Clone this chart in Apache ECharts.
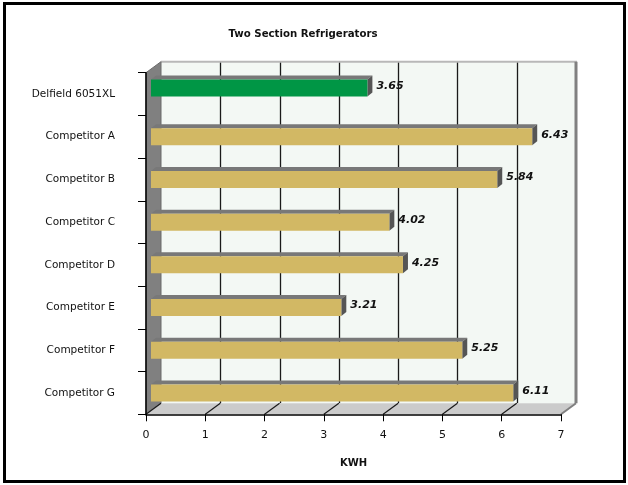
<!DOCTYPE html>
<html>
<head>
<meta charset="utf-8">
<script src="https://cdn.jsdelivr.net/npm/echarts@6/dist/echarts.min.js"></script>
<style>
html,body{margin:0;padding:0;background:#fff;}
#chart{width:628px;height:485px;}
</style>
</head>
<body>
<div id="chart"></div>
<script>
// ---- data ----
const categories = ['Delfield 6051XL', 'Competitor A', 'Competitor B', 'Competitor C', 'Competitor D', 'Competitor E', 'Competitor F', 'Competitor G'];
const kwh = [3.65, 6.43, 5.84, 4.02, 4.25, 3.21, 5.25, 6.11];
const xTicks = [0, 1, 2, 3, 4, 5, 6, 7];
const highlighted = 'Delfield 6051XL';
const titleText = 'Two Section Refrigerators';
const axisName = 'KWH';

// ---- style ----
const DX = 15, DY = -11;          // depth of the 3D box
const BAR_DX = 5, BAR_DY = -4;    // depth of each bar
const BAR_H = 17;
const FONT = '"DejaVu Sans", Verdana, sans-serif';

const chart = echarts.init(document.getElementById('chart'), null, {renderer: 'canvas'});

function backdrop(params, api) {
  const cs = params.coordSys;
  const top = cs.y, bot = cs.y + cs.height;
  const xmin = xTicks[0], xmax = xTicks[xTicks.length - 1];
  const x0 = api.coord([xmin, 0])[0];
  const x7 = api.coord([xmax, 0])[0];
  const children = [];
  children.push({type: 'rect', shape: {x: x0 + DX, y: top + DY, width: x7 - x0, height: bot - top},
    style: {fill: '#f3f8f4', stroke: null}});
  xTicks.forEach(v => {
    if (v === xmin || v === xmax) return;
    const x = Math.round(api.coord([v, 0])[0] + DX) + 0.5;
    children.push({type: 'line', shape: {x1: x, y1: top + DY, x2: x, y2: bot + DY},
      style: {stroke: '#1a1a1a', lineWidth: 1.3}});
  });
  children.push({type: 'line', shape: {x1: x0 + DX, y1: top + DY, x2: x7 + DX + 1, y2: top + DY},
    style: {stroke: '#b8b8b8', lineWidth: 2}});
  children.push({type: 'line', shape: {x1: x7 + DX, y1: top + DY, x2: x7 + DX, y2: bot + DY},
    style: {stroke: '#808080', lineWidth: 3}});
  children.push({type: 'polygon', shape: {points: [[x0, top], [x0 + DX, top + DY], [x0 + DX, bot + DY], [x0, bot]]},
    style: {fill: '#808080', stroke: '#6a6a6a', lineWidth: 1}});
  children.push({type: 'polygon', shape: {points: [[x0, bot], [x7, bot], [x7 + DX, bot + DY], [x0 + DX, bot + DY]]},
    style: {fill: '#cbcbcb', stroke: null}});
  xTicks.forEach(v => {
    const x = api.coord([v, 0])[0];
    children.push({type: 'line', shape: {x1: x, y1: bot, x2: x + DX, y2: bot + DY},
      style: {stroke: v === xmax ? '#808080' : '#1a1a1a', lineWidth: v === xmax ? 2 : 1.2}});
  });
  return {type: 'group', children};
}

function bar3d(params, api) {
  const catIdx = api.value(0);
  const val = api.value(1);
  const name = categories[catIdx];
  const isHi = name === highlighted;
  const pStart = api.coord([0, catIdx]);
  const pEnd = api.coord([val, catIdx]);
  const shift = isHi ? -6 : 0;
  const cy = pStart[1] + shift;
  const fx0 = pStart[0] + BAR_DX, fx1 = pEnd[0] + BAR_DX;
  const ft = cy - BAR_H / 2, fb = cy + BAR_H / 2;
  return {type: 'group', children: [
    {type: 'polygon', shape: {points: [[fx0, ft], [fx1, ft], [fx1 + BAR_DX, ft + BAR_DY], [fx0 + BAR_DX, ft + BAR_DY]]},
      style: {fill: '#787878'}},
    {type: 'polygon', shape: {points: [[fx1, ft], [fx1 + BAR_DX, ft + BAR_DY], [fx1 + BAR_DX, fb + BAR_DY], [fx1, fb]]},
      style: {fill: '#555555'}},
    {type: 'rect', shape: {x: fx0, y: ft, width: fx1 - fx0, height: BAR_H},
      style: {fill: isHi ? '#009645' : '#d2b864'}},
    {type: 'text', x: fx1 + BAR_DX + 4, y: cy - 2,
      style: {text: val.toFixed(2), fill: '#111', font: 'italic bold 11px ' + FONT,
        textAlign: 'left', textVerticalAlign: 'middle'}}
  ]};
}

chart.setOption({
  animation: false,
  backgroundColor: '#ffffff',
  title: {
    text: titleText, left: 298, top: 24, textAlign: 'center',
    textStyle: {fontFamily: FONT, fontSize: 10.2, fontWeight: 'bold', color: '#111'}
  },
  graphic: [{
    type: 'rect', shape: {x: 4.5, y: 3.5, width: 620, height: 478},
    style: {fill: 'none', stroke: '#000', lineWidth: 3}, z: 100
  }],
  grid: {left: 146, right: 67, top: 72.7, bottom: 70.7, containLabel: false},
  xAxis: {
    type: 'value', min: xTicks[0], max: xTicks[xTicks.length - 1], interval: 1, z: 10,
    name: axisName, nameLocation: 'middle', nameGap: 44,
    nameTextStyle: {fontFamily: FONT, fontSize: 10, fontWeight: 'bold', color: '#111'},
    axisLine: {show: true, lineStyle: {color: '#000', width: 1.5}},
    axisTick: {show: true, length: 7, lineStyle: {color: '#000', width: 1}},
    axisLabel: {margin: 15, fontFamily: FONT, fontSize: 11, color: '#111'},
    splitLine: {show: false}
  },
  yAxis: {
    type: 'category', data: categories, inverse: true, z: 10,
    axisLine: {show: true, lineStyle: {color: '#000', width: 1.5}},
    axisTick: {show: true, length: 8, lineStyle: {color: '#000', width: 1}},
    axisLabel: {margin: 31, fontFamily: FONT, fontSize: 10.5, color: '#111'},
    splitLine: {show: false}
  },
  series: [
    {type: 'custom', name: 'box', z: 1, silent: true, renderItem: backdrop, data: [[0, 0]],
      encode: {x: 0, y: 1}, clip: false},
    {type: 'custom', name: 'KWH', z: 3, renderItem: bar3d, clip: false,
      data: categories.map((c, i) => [i, kwh[i]]),
      encode: {y: 0, x: 1}}
  ]
});
</script>
</body>
</html>
